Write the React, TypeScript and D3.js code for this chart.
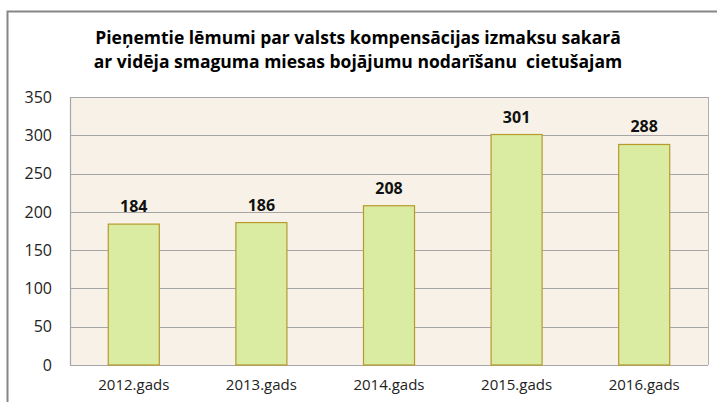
import * as d3 from "d3";
import { useEffect, useRef } from "react";

// Chart data
const categories = ["2012.gads", "2013.gads", "2014.gads", "2015.gads", "2016.gads"];
const values = [184, 186, 208, 301, 288];
const yTicks = [0, 50, 100, 150, 200, 250, 300, 350];
const titleLines = [
  "Pieņemtie lēmumi par valsts kompensācijas izmaksu sakarā",
  "ar vidēja smaguma miesas bojājumu nodarīšanu  cietušajam",
];

const WIDTH = 717;
const HEIGHT = 402;
const FONT = "'Open Sans', 'DejaVu Sans', sans-serif";

const App = () => {
  const svgRef = useRef<SVGSVGElement>(null);

  useEffect(() => {
    const svg = d3.select(svgRef.current);
    svg.selectAll("*").remove();

    const plot = { left: 70, right: 708, top: 97, bottom: 365 };

    // outer chart frame (cut off at right and bottom)
    svg
      .append("path")
      .attr("d", `M7.5,${HEIGHT} V11.5 H${WIDTH}`)
      .attr("fill", "none")
      .attr("stroke", "#868686")
      .attr("stroke-width", 2);

    // title
    svg
      .append("g")
      .selectAll("text")
      .data(titleLines)
      .join("text")
      .attr("x", 358)
      .attr("y", (d, i) => 44 + i * 24)
      .attr("text-anchor", "middle")
      .attr("font-family", FONT)
      .attr("font-weight", "bold")
      .attr("font-size", 17.5)
      .attr("fill", "#000")
      .style("white-space", "pre")
      .text((d) => d);

    const x = d3
      .scaleBand()
      .domain(categories)
      .range([plot.left, plot.right])
      .paddingInner(0.6)
      .paddingOuter(0.3);

    const y = d3.scaleLinear().domain([0, 350]).range([plot.bottom, plot.top]);

    // plot background
    svg
      .append("rect")
      .attr("x", plot.left)
      .attr("y", plot.top)
      .attr("width", plot.right - plot.left)
      .attr("height", plot.bottom - plot.top)
      .attr("fill", "#f7f1e7");

    // gridlines
    svg
      .append("g")
      .selectAll("line")
      .data(yTicks)
      .join("line")
      .attr("x1", plot.left)
      .attr("x2", plot.right)
      .attr("y1", (d) => Math.round(y(d)) + 0.5)
      .attr("y2", (d) => Math.round(y(d)) + 0.5)
      .attr("stroke", "#a6a6a6")
      .attr("stroke-width", 1.2);

    // plot border right + left axis
    svg
      .append("line")
      .attr("x1", plot.right + 0.5)
      .attr("x2", plot.right + 0.5)
      .attr("y1", plot.top)
      .attr("y2", plot.bottom)
      .attr("stroke", "#b0b0b0");
    svg
      .append("line")
      .attr("x1", plot.left + 0.5)
      .attr("x2", plot.left + 0.5)
      .attr("y1", plot.top)
      .attr("y2", plot.bottom + 0.5)
      .attr("stroke", "#a6a6a6")
      .attr("stroke-width", 1.2);

    // y tick labels
    svg
      .append("g")
      .selectAll("text")
      .data(yTicks)
      .join("text")
      .attr("x", 52)
      .attr("y", (d) => y(d))
      .attr("dy", "0.36em")
      .attr("text-anchor", "end")
      .attr("font-family", FONT)
      .attr("font-size", 16)
      .attr("fill", "#222")
      .text((d) => d);

    // bars
    svg
      .append("g")
      .selectAll("rect")
      .data(values)
      .join("rect")
      .attr("x", (d, i) => x(categories[i]))
      .attr("y", (d) => y(d))
      .attr("width", x.bandwidth())
      .attr("height", (d) => y(0) - y(d))
      .attr("fill", "#d9eca1")
      .attr("stroke", "#b89a2c")
      .attr("stroke-width", 1.2);

    // value labels
    svg
      .append("g")
      .selectAll("text")
      .data(values)
      .join("text")
      .attr("x", (d, i) => x(categories[i]) + x.bandwidth() / 2)
      .attr("y", (d) => y(d) - 12)
      .attr("text-anchor", "middle")
      .attr("font-family", FONT)
      .attr("font-weight", "bold")
      .attr("font-size", 16)
      .attr("fill", "#111")
      .text((d) => d);

    // category labels
    svg
      .append("g")
      .selectAll("text")
      .data(categories)
      .join("text")
      .attr("x", (d) => x(d) + x.bandwidth() / 2)
      .attr("y", 390)
      .attr("text-anchor", "middle")
      .attr("font-family", FONT)
      .attr("font-size", 15)
      .attr("fill", "#222")
      .text((d) => d);
  }, []);

  return (
    <svg
      ref={svgRef}
      width={WIDTH}
      height={HEIGHT}
      style={{ position: "absolute", left: 0, top: 0, background: "#fff" }}
    ></svg>
  );
};

export default App;
